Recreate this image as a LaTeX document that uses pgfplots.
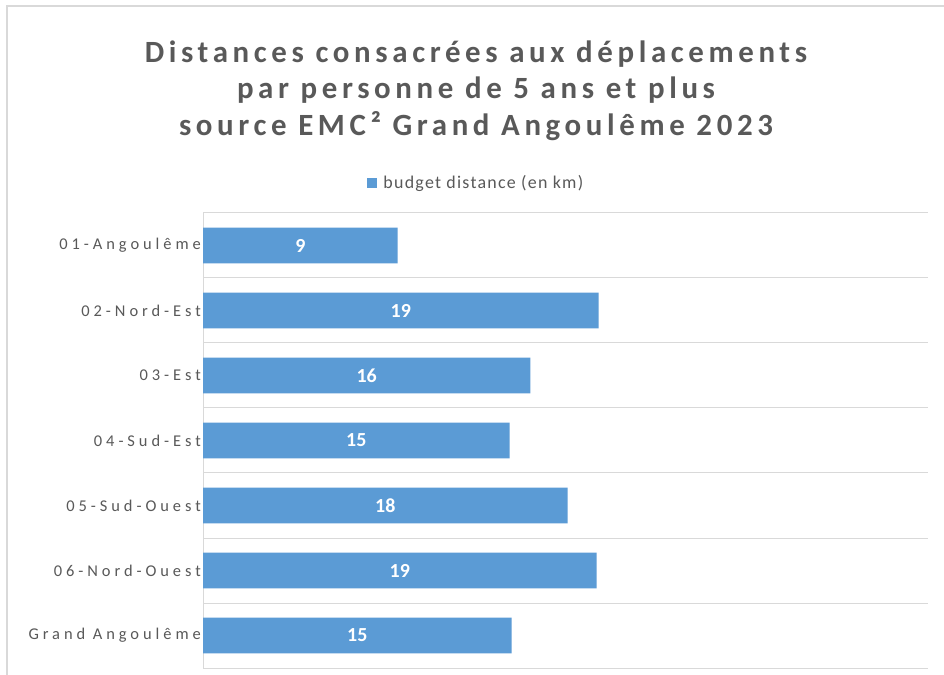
\documentclass[border=0pt]{standalone}
\usepackage{pgfplots}
\pgfplotsset{compat=1.18}
\usepackage{pgfplotstable}
\usepackage{fontspec}
\setmainfont{Carlito}
\newfontfamily\titlefont[LetterSpace=15]{Carlito}
\newfontfamily\tickfont[LetterSpace=24]{Carlito}
\newfontfamily\legfont[LetterSpace=7]{Carlito}
\definecolor{barblue}{HTML}{5B9BD5}
\definecolor{txtgray}{HTML}{595959}
\definecolor{gridgray}{HTML}{D9D9D9}

\pgfplotstableread{
idx val
0 9.4
1 19.1
2 15.8
3 14.8
4 17.6
5 19.0
6 14.9
}\distances

\begin{document}
\begin{tikzpicture}[x=1bp,y=1bp]
\useasboundingbox (0,0) rectangle (944,675);
\fill[white] (0,0) rectangle (944,675);
% chart border (cropped on right and bottom)
\draw[gridgray,line width=1.5bp] (7,0) -- (7,669) -- (944,669);
% title
\begin{scope}[every node/.style={text=txtgray,inner sep=0pt,anchor=base,font=\titlefont\bfseries\fontsize{31}{36}\selectfont}]
\node at (476,612) {Distances consacrées aux déplacements};
\node at (476,576) {par personne de 5 ans et plus};
\node at (476,539) {source EMC² Grand Angoulême 2023};
\end{scope}
\begin{axis}[
  at={(203bp,7bp)},anchor=south west,
  scale only axis,
  width=725bp,height=455bp,
  xmin=0,xmax=35,
  ymin=-0.5,ymax=6.5,
  y dir=reverse,
  axis y line*=left,
  axis x line=none,
  y axis line style={draw=gridgray,line width=1bp},
  xtick=\empty,
  ytick={0,...,6},
  yticklabels={01-Angoulême,02-Nord-Est,03-Est,04-Sud-Est,05-Sud-Ouest,06-Nord-Ouest,Grand Angoulême},
  yticklabel style={font=\tickfont\fontsize{16.5}{19}\selectfont,text=txtgray,inner sep=2bp},
  major tick length=0pt,
  minor tick length=0pt,
  minor ytick={-0.5,0.5,...,6.5},
  yminorgrids=true,
  minor grid style={draw=gridgray,line width=1bp},
  clip=false,
  legend style={at={(0.377,1.066)},anchor=center,draw=none,fill=none,
    font=\legfont\fontsize{18}{21}\selectfont,text=txtgray,
    /tikz/every even column/.append style={column sep=4bp}},
  legend image code/.code={\fill[barblue] (-1bp,-5bp) rectangle (9bp,5bp);},
  legend cell align=left,
  /pgf/number format/assume math mode=true,
]
\addplot[xbar,bar width=0.55,fill=barblue,draw=none] table[x=val,y=idx]{\distances};
\addlegendentry{\hspace{4bp}budget distance (en km)}
\addplot[draw=none,mark=none,forget plot,
  x filter/.expression={x/2},
  nodes near coords,point meta=explicit,
  every node near coord/.append style={anchor=center,text=white,
    font=\bfseries\fontsize{20}{23}\selectfont,
    /pgf/number format/fixed,/pgf/number format/precision=0}]
  table[x=val,y=idx,meta=val]{\distances};
\end{axis}
\end{tikzpicture}
\end{document}
